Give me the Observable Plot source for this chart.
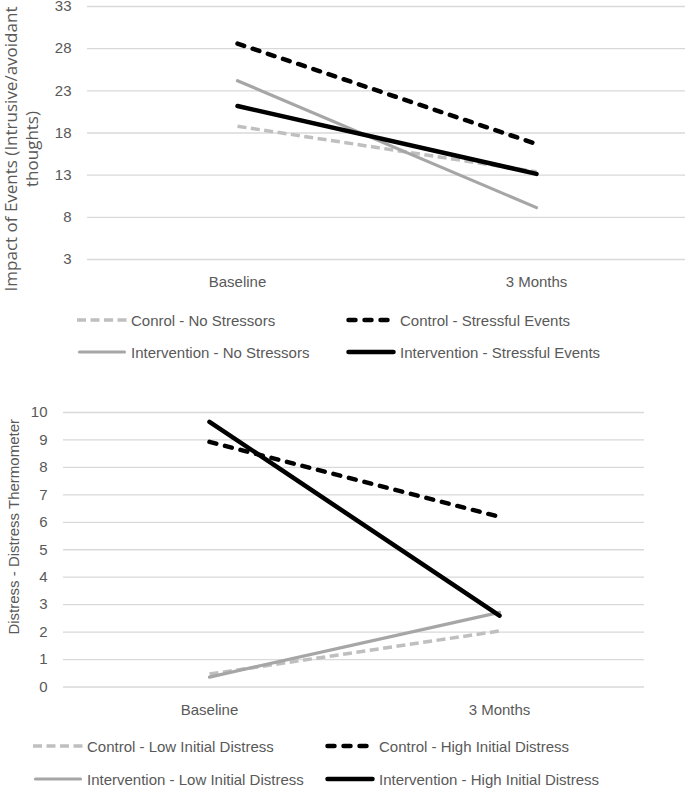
<!DOCTYPE html>
<html>
<head>
<meta charset="utf-8">
<script src="https://cdn.jsdelivr.net/npm/d3@7"></script>
<script src="https://cdn.jsdelivr.net/npm/@observablehq/plot@0.6"></script>
<style>
  html, body { margin: 0; padding: 0; background: #fff; }
  #wrap { position: relative; width: 685px; height: 788px; overflow: hidden; background: #fff; }
  .abs { position: absolute; }
  .leg { position: absolute; display: flex; align-items: center; font-family: 'Liberation Sans', Arial, sans-serif; font-size: 15px; color: #595959; white-space: nowrap; height: 20px; }
  .leg svg { display: block; margin-right: 4px; }
</style>
</head>
<body>
<div id="wrap"></div>
<script>
// ---------- Data ----------
const times = ["Baseline", "3 Months"];

// Chart 1: Impact of Events
const iesTitle = "Impact of Events (Intrusive/avoidant\nthoughts)";
const iesTicks = [3, 8, 13, 18, 23, 28, 33];
const iesSeries = ["Conrol - No Stressors", "Control - Stressful Events", "Intervention - No Stressors", "Intervention - Stressful Events"];
const iesControlNoStressors = [18.8, 13.4];
const iesControlStressful = [28.6, 16.7];
const iesInterventionNoStressors = [24.2, 9.15];
const iesInterventionStressful = [21.2, 13.15];

// Chart 2: Distress Thermometer
const dtTitle = "Distress - Distress Thermometer";
const dtTicks = [0, 1, 2, 3, 4, 5, 6, 7, 8, 9, 10];
const dtSeries = ["Control - Low Initial Distress", "Control - High Initial Distress", "Intervention - Low Initial Distress", "Intervention - High Initial Distress"];
const dtControlLow = [0.47, 2.04];
const dtControlHigh = [8.93, 6.2];
const dtInterventionLow = [0.36, 2.72];
const dtInterventionHigh = [9.66, 2.6];

// ---------- Styles (per series position) ----------
const styles = [
  {stroke: "#bfbfbf", strokeWidth: 3.5, strokeDasharray: "9,4.5", strokeLinecap: "butt"},
  {stroke: "#000000", strokeWidth: 4.5, strokeDasharray: "7,9", strokeLinecap: "round"},
  {stroke: "#a6a6a6", strokeWidth: 3.2, strokeDasharray: null, strokeLinecap: "round"},
  {stroke: "#000000", strokeWidth: 4.5, strokeDasharray: null, strokeLinecap: "round"}
];

const rows = (vals) => times.map((t, i) => ({time: t, value: vals[i]}));
const lineMark = (vals, s) => Plot.line(rows(vals), {
  x: "time", y: "value",
  stroke: s.stroke, strokeWidth: s.strokeWidth,
  strokeDasharray: s.strokeDasharray || undefined,
  strokeLinecap: s.strokeLinecap
});

const baseStyle = {fontFamily: "'Liberation Sans', Arial, sans-serif", fontSize: "15px", color: "#595959", background: "transparent", overflow: "visible"};

const wrap = document.getElementById("wrap");

function legend(names, rowsY, cols) {
  names.forEach((name, i) => {
    const s = styles[i];
    const div = document.createElement("div");
    div.className = "leg";
    div.style.left = cols[i % 2] + "px";
    div.style.top = (rowsY[Math.floor(i / 2)] - 10) + "px";
    const dash = s.strokeDasharray ? `stroke-dasharray="${s.strokeDasharray}"` : "";
    const round = s.strokeLinecap === "round";
    div.innerHTML = `<svg width="50" height="10"><line x1="${round ? 2.5 : 0}" x2="${round ? 47.5 : 50}" y1="5" y2="5" stroke="${s.stroke}" stroke-width="${s.strokeWidth}" stroke-linecap="${s.strokeLinecap}" ${dash}/></svg><span>${name}</span>`;
    wrap.appendChild(div);
  });
}

// ---------- Chart 1 ----------
const chart1 = Plot.plot({
  width: 685, height: 299,
  marginTop: 6, marginBottom: 40, marginLeft: 87, marginRight: 0,
  style: baseStyle,
  x: {type: "point", domain: times, padding: 0.5, label: null},
  y: {domain: [3, 33], label: null},
  marks: [
    Plot.ruleY(iesTicks, {stroke: "#d9d9d9", strokeWidth: 1.3}),
    Plot.axisY({ticks: iesTicks, tickSize: 0, tickPadding: 16, label: null}),
    Plot.axisX({tickSize: 0, tickPadding: 17, label: null}),
    lineMark(iesControlNoStressors, styles[0]),
    lineMark(iesControlStressful, styles[1]),
    lineMark(iesInterventionNoStressors, styles[2]),
    lineMark(iesInterventionStressful, styles[3]),
    Plot.text([iesTitle], {
      text: d => d, frameAnchor: "left", rotate: -90,
      textAnchor: "middle", lineAnchor: "middle", lineHeight: 1.25,
      dx: -67, dy: 16,
      fontFamily: "'Open Sans', sans-serif", fontSize: 17, fill: "#595959"
    })
  ]
});
chart1.classList.add("abs");
chart1.style.left = "0px";
chart1.style.top = "0px";
wrap.appendChild(chart1);
legend(iesSeries, [320, 352], [77, 346]);

// ---------- Chart 2 ----------
const top2 = 395;
const chart2 = Plot.plot({
  width: 685, height: 332,
  marginTop: 17, marginBottom: 40.5, marginLeft: 63, marginRight: 41,
  style: baseStyle,
  x: {type: "point", domain: times, padding: 0.5, label: null},
  y: {domain: [0, 10], label: null},
  marks: [
    Plot.ruleY(dtTicks, {stroke: "#d9d9d9", strokeWidth: 1.3}),
    Plot.axisY({ticks: dtTicks, tickSize: 0, tickPadding: 16, label: null}),
    Plot.axisX({tickSize: 0, tickPadding: 17, label: null}),
    lineMark(dtControlLow, styles[0]),
    lineMark(dtControlHigh, styles[1]),
    lineMark(dtInterventionLow, styles[2]),
    lineMark(dtInterventionHigh, styles[3]),
    Plot.text([dtTitle], {
      text: d => d, frameAnchor: "left", rotate: -90,
      textAnchor: "middle", lineAnchor: "middle",
      dx: -49, dy: -23,
      fontFamily: "'Liberation Sans', Arial, sans-serif", fontSize: 15, fill: "#595959"
    })
  ]
});
chart2.classList.add("abs");
chart2.style.left = "0px";
chart2.style.top = top2 + "px";
wrap.appendChild(chart2);
legend(dtSeries, [746, 779], [33, 325]);
</script>
</body>
</html>
